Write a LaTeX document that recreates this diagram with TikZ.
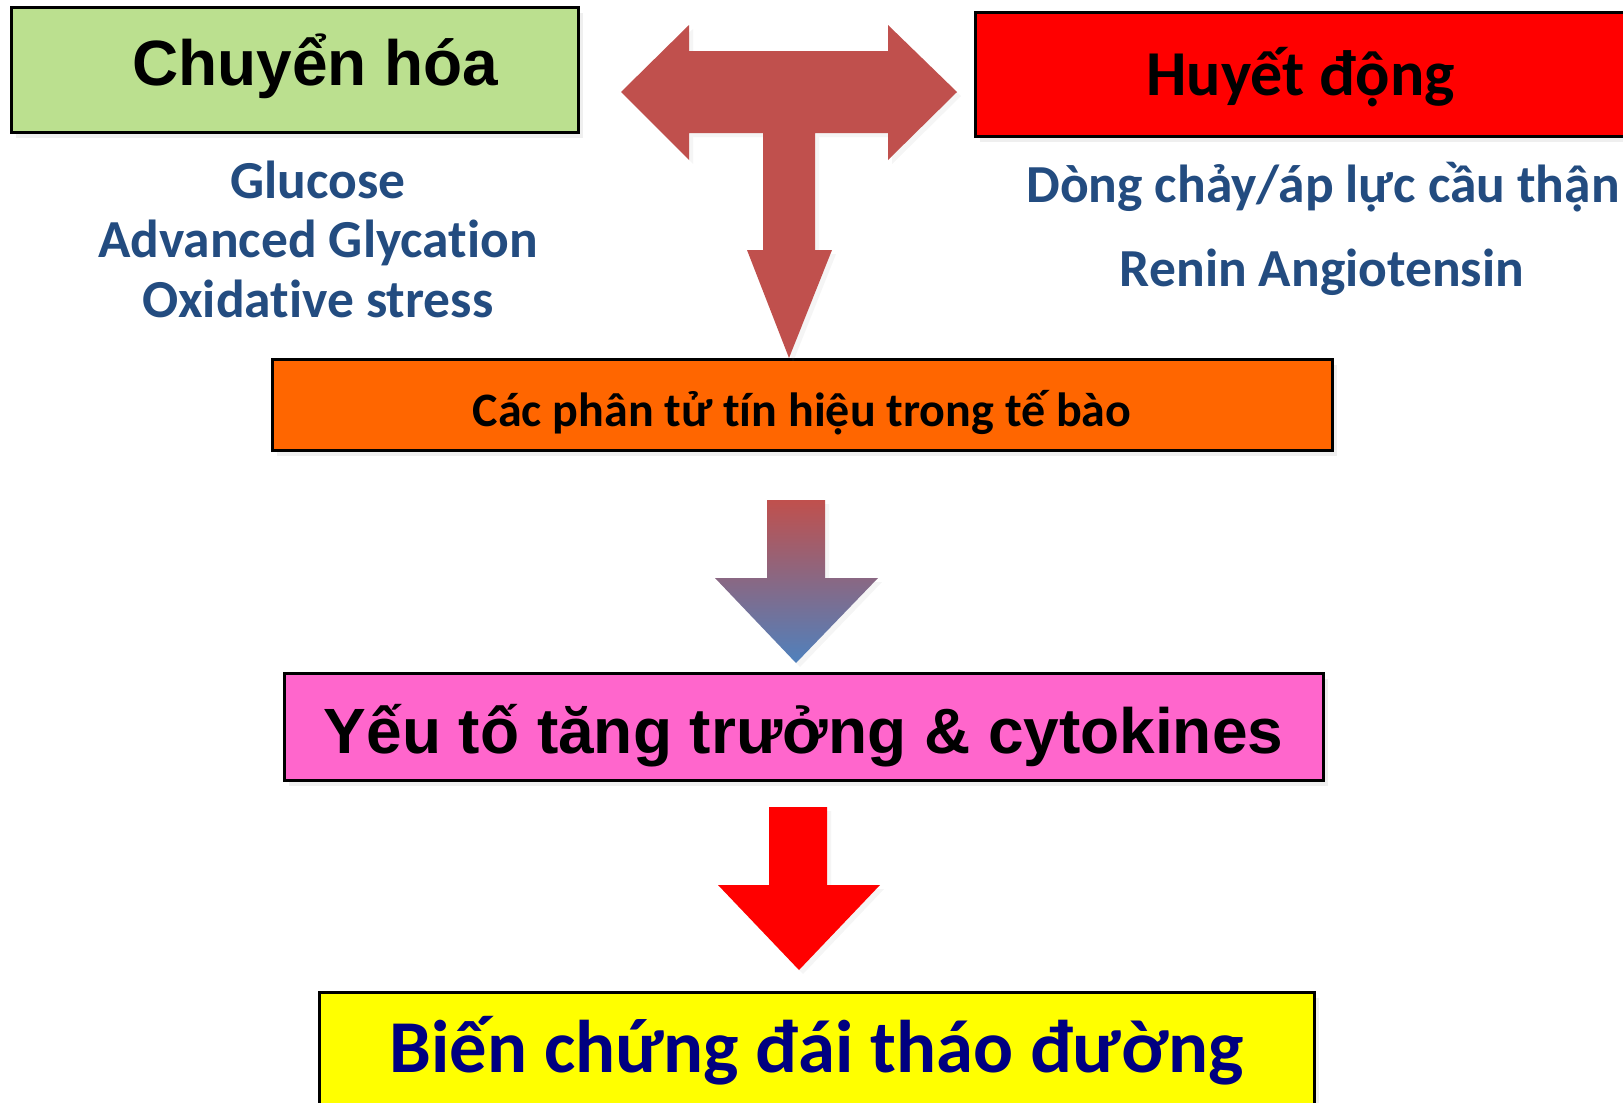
\documentclass[tikz,border=0pt]{standalone}
\usepackage{fontspec}
\setmainfont{Carlito}[Ligatures={NoCommon}]
\newfontfamily\arialfont{Liberation Sans}
\usepackage{tikz}
\usetikzlibrary{shadows}

\definecolor{chemgreen}{RGB}{187,224,143}
\definecolor{hemored}{RGB}{255,0,0}
\definecolor{sigorange}{RGB}{255,102,0}
\definecolor{growpink}{RGB}{255,102,204}
\definecolor{complyellow}{RGB}{255,255,0}
\definecolor{notecol}{RGB}{35,76,128}
\definecolor{navytext}{RGB}{0,0,128}
\definecolor{arrred}{RGB}{192,80,77}
\definecolor{arrblue}{RGB}{79,129,189}

\begin{document}
\begin{tikzpicture}[
  x=1pt, y=-1pt,
  box/.style={draw, line width=3pt, inner sep=0pt, text depth=0pt,
    drop shadow={shadow xshift=5pt, shadow yshift=-6pt, opacity=0.12}},
  note/.style={anchor=base, text=notecol, font=\bfseries\fontsize{53.5}{64}\selectfont},
  blockarrow/.style={drop shadow={shadow xshift=4pt, shadow yshift=-4pt, opacity=0.08}}
]
\clip (0,0) rectangle (1623,1103);
\fill[white] (0,0) rectangle (1623,1103);

% two causes
\node[box, fill=chemgreen, minimum width=567pt, minimum height=125pt, text height=31pt,
  font=\arialfont\bfseries\fontsize{64}{77}\selectfont] (chem) at (294.5,69.5) {\hspace*{42pt}Chuyển hóa};
\node[box, fill=hemored, minimum width=651pt, minimum height=124pt, text height=42pt,
  font=\bfseries\fontsize{64}{77}\selectfont] (hemo) at (1300.5,74) {Huyết động};

\node[note] (glu) at (318,198) {Glucose};
\node[note] (age) at (318,257) {Advanced Glycation};
\node[note] (ox) at (318,317) {Oxidative stress};
\node[note] (flow) at (1323,202) {Dòng chảy/áp lực cầu thận};
\node[note] (ras) at (1322,286) {Renin Angiotensin};

% chain
\node[box, fill=sigorange, minimum width=1060pt, minimum height=91pt, text height=43pt,
  font=\bfseries\fontsize{48}{58}\selectfont] (sig) at (802,404.5) {Các phân tử tín hiệu trong tế bào};
\node[box, fill=growpink, minimum width=1039pt, minimum height=107pt, text height=53pt,
  font=\arialfont\bfseries\fontsize{64}{77}\selectfont] (growth) at (803.5,726.5) {Yếu tố tăng trưởng \& cytokines};
\node[box, fill=complyellow, text=navytext, minimum width=995pt, minimum height=138pt, text height=22pt,
  font=\bfseries\fontsize{74.6}{90}\selectfont] (compl) at (816.5,1061) {Biến chứng đái tháo đường};

% T arrow into sig
\coordinate (ttip) at (789,358);
\fill[arrred, blockarrow] (621,92) -- (689,25) -- (689,51) -- (888,51) -- (888,25) -- (957,92)
  -- (888,160) -- (888,133) -- (815,133) -- (815,250) -- (832,250) -- (ttip)
  -- (747,250) -- (763,250) -- (763,133) -- (689,133) -- (689,160) -- cycle;

% sig -> growth
\coordinate (gtip) at (796,663);
\shade[top color=arrred, bottom color=arrblue, blockarrow] (767,500) -- (825,500) -- (825,578)
  -- (878,578) -- (gtip) -- (715,578) -- (767,578) -- cycle;

% growth -> compl
\coordinate (rtip) at (799,970);
\fill[red, blockarrow] (769,807) -- (827,807) -- (827,885) -- (880,885) -- (rtip)
  -- (718,885) -- (769,885) -- cycle;
\end{tikzpicture}
\end{document}
